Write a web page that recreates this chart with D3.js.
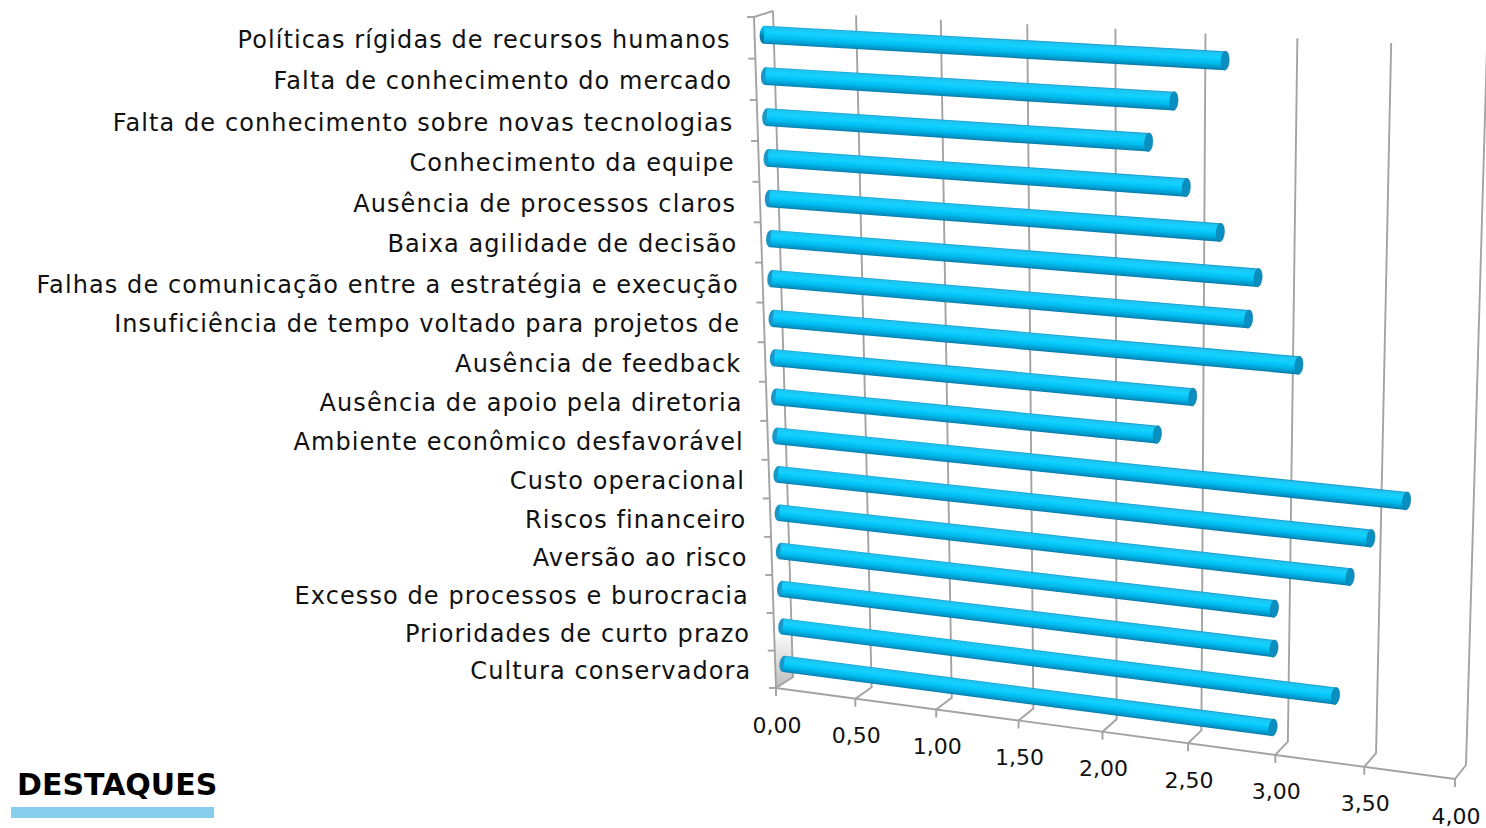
<!DOCTYPE html>
<html>
<head>
<meta charset="utf-8">
<script src="https://cdn.jsdelivr.net/npm/d3@7"></script>
<style>
  body { margin: 0; background: #fff; }
  svg { display: block; }
</style>
</head>
<body>
<svg></svg>
<script>
// chart data (top to bottom, as shown)
var categories = [
  'Políticas rígidas de recursos humanos',
  'Falta de conhecimento do mercado',
  'Falta de conhecimento sobre novas tecnologias',
  'Conhecimento da equipe',
  'Ausência de processos claros',
  'Baixa agilidade de decisão',
  'Falhas de comunicação entre a estratégia e execução',
  'Insuficiência de tempo voltado para projetos de',
  'Ausência de feedback',
  'Ausência de apoio pela diretoria',
  'Ambiente econômico desfavorável',
  'Custo operacional',
  'Riscos financeiro',
  'Aversão ao risco',
  'Excesso de processos e burocracia',
  'Prioridades de curto prazo',
  'Cultura conservadora'
];
var values = [2.65, 2.37, 2.23, 2.44, 2.63, 2.84, 2.79, 3.07, 2.48, 2.28, 3.67, 3.48, 3.37, 2.95, 2.95, 3.30, 2.95];
var tickValues = [0, 0.5, 1, 1.5, 2, 2.5, 3, 3.5, 4];
var tickLabels = ['0,00', '0,50', '1,00', '1,50', '2,00', '2,50', '3,00', '3,50', '4,00'];

var width = 1486;
var height = 828;

var svg = d3.select('svg')
  .attr('width', width)
  .attr('height', height);

// value -> 0..1 across the wall, category -> 0..1 up the wall (bottom first)
var xScale = d3.scaleLinear().domain([0, 4]).range([0, 1]);
var yScale = d3.scaleBand().domain(categories.slice().reverse()).range([0, 1]).padding(0);

// perspective: back wall and front plane as quads (bl, br, tr, tl)
var backQuad = [[793, 677], [1466, 765], [1487, 48], [773, 11]];
var frontQuad = [[776, 688], [1455, 779], [1474, 57], [754, 17]];

var homography = (q) => {
  var x0 = q[0][0], y0 = q[0][1], x1 = q[1][0], y1 = q[1][1];
  var x2 = q[2][0], y2 = q[2][1], x3 = q[3][0], y3 = q[3][1];
  var dx1 = x1 - x2, dx2 = x3 - x2, dx3 = x0 - x1 + x2 - x3;
  var dy1 = y1 - y2, dy2 = y3 - y2, dy3 = y0 - y1 + y2 - y3;
  var den = dx1 * dy2 - dx2 * dy1;
  var g = (dx3 * dy2 - dx2 * dy3) / den;
  var h = (dx1 * dy3 - dx3 * dy1) / den;
  var a = x1 - x0 + g * x1, b = x3 - x0 + h * x3, c = x0;
  var d = y1 - y0 + g * y1, e = y3 - y0 + h * y3, f = y0;
  return (u, v) => {
    var w = g * u + h * v + 1;
    return [(a * u + b * v + c) / w, (d * u + e * v + f) / w];
  };
};
var hBack = homography(backQuad);
var hFront = homography(frontQuad);

// v = value, hh = height 0..1, dep = 0 back .. 1 front
var proj = (v, hh, dep) => {
  var u = xScale(v);
  var pb = hBack(u, hh), pf = hFront(u, hh);
  return [pb[0] + (pf[0] - pb[0]) * dep, pb[1] + (pf[1] - pb[1]) * dep];
};

var line = d3.line();
var grid = svg.append('g').attr('id', 'grid')
  .attr('fill', 'none')
  .attr('stroke', '#a3a3a3')
  .attr('stroke-width', 1.9);

// shadow on the left wall
var defs = svg.append('defs');
var shade = defs.append('linearGradient').attr('id', 'shade')
  .attr('x1', 0).attr('y1', 0).attr('x2', 0).attr('y2', 1);
shade.append('stop').attr('offset', '0%').attr('stop-color', '#ffffff');
shade.append('stop').attr('offset', '100%').attr('stop-color', '#bdbdbd');
grid.append('path')
  .attr('d', line([proj(0, 0.075, 1), proj(0, 0.075, 0), proj(0, 0, 0), proj(0, 0, 1)]) + 'Z')
  .attr('fill', 'url(#shade)')
  .attr('stroke', 'none');

// back wall gridlines, floor diagonals and ticks
tickValues.forEach((t) => {
  var f = proj(t, 0, 1);
  grid.append('path').attr('d', line([proj(t, 1, 0), proj(t, 0, 0), f, [f[0], f[1] + 8]]));
});

// floor front edge
grid.append('path').attr('d', line([proj(0, 0, 1), proj(4, 0, 1)]));

// left wall: front axis, top edge
grid.append('path').attr('d', line([proj(0, 1, 0), proj(0, 1, 1), proj(0, 0, 1)]));
d3.range(categories.length + 1).forEach((k) => {
  var p = proj(0, k / categories.length, 1);
  grid.append('path').attr('d', line([p, [p[0] - 7, p[1]]]));
});

// bars as cylinders
var radius = 0.0128;
var bars = svg.append('g').attr('id', 'bars');
categories.forEach((cat, i) => {
  var hc = yScale(cat) + yScale.bandwidth() / 2;
  var v = values[i];
  var a0 = proj(0, hc, 0.5), a1 = proj(v, hc, 0.5);
  var t0 = proj(0, hc + radius, 0.5), b0 = proj(0, hc - radius, 0.5);
  var t1 = proj(v, hc + radius, 0.5), b1 = proj(v, hc - radius, 0.5);
  var ang = Math.atan2(a1[1] - a0[1], a1[0] - a0[0]);
  var nx = -Math.sin(ang), ny = Math.cos(ang);
  var r0 = Math.hypot(t0[0] - b0[0], t0[1] - b0[1]) / 2;
  var r1 = Math.hypot(t1[0] - b1[0], t1[1] - b1[1]) / 2;
  var cx = (a0[0] + a1[0]) / 2, cy = (a0[1] + a1[1]) / 2, rm = (r0 + r1) / 2;

  var gid = 'bar' + i;
  var grad = defs.append('linearGradient').attr('id', gid)
    .attr('gradientUnits', 'userSpaceOnUse')
    .attr('x1', cx - nx * rm).attr('y1', cy - ny * rm)
    .attr('x2', cx + nx * rm).attr('y2', cy + ny * rm);
  [['0%', '#1b96c6'], ['8%', '#1ec3f0'], ['35%', '#12d2ff'], ['65%', '#00bdf0'], ['88%', '#0099cc'], ['100%', '#0a7aa6']]
    .forEach((s) => grad.append('stop').attr('offset', s[0]).attr('stop-color', s[1]));

  var deg = ang * 180 / Math.PI;
  bars.append('ellipse')
    .attr('transform', 'translate(' + a0[0] + ',' + a0[1] + ') rotate(' + deg + ')')
    .attr('rx', 4.5).attr('ry', r0)
    .attr('fill', 'url(#' + gid + ')');
  bars.append('path')
    .attr('d', line([
      [a0[0] + nx * r0, a0[1] + ny * r0], [a1[0] + nx * r1, a1[1] + ny * r1],
      [a1[0] - nx * r1, a1[1] - ny * r1], [a0[0] - nx * r0, a0[1] - ny * r0]
    ]) + 'Z')
    .attr('fill', 'url(#' + gid + ')');
  bars.append('ellipse')
    .attr('transform', 'translate(' + a1[0] + ',' + a1[1] + ') rotate(' + deg + ')')
    .attr('rx', 4).attr('ry', r1)
    .attr('fill', '#0a8fc0')
    .attr('stroke', '#0b7ba6')
    .attr('stroke-width', 0.6);
});

// category labels along the left axis
var labels = svg.append('g').attr('id', 'labels')
  .attr('font-family', 'DejaVu Sans, sans-serif')
  .attr('font-size', 24)
  .attr('letter-spacing', 1.1)
  .attr('fill', '#111');
categories.forEach((cat) => {
  var p = proj(0, yScale(cat) + yScale.bandwidth() / 2, 1);
  labels.append('text')
    .attr('x', p[0] - 24)
    .attr('y', p[1] + 2)
    .attr('text-anchor', 'end')
    .attr('dominant-baseline', 'central')
    .text(cat);
});

// value tick labels
var xLabels = svg.append('g').attr('id', 'x-labels')
  .attr('font-family', 'DejaVu Sans, sans-serif')
  .attr('font-size', 22)
  .attr('fill', '#111');
tickValues.forEach((t, i) => {
  var p = proj(t, 0, 1);
  xLabels.append('text')
    .attr('x', p[0] + 1)
    .attr('y', p[1] + 37)
    .attr('text-anchor', 'middle')
    .attr('dominant-baseline', 'central')
    .text(tickLabels[i]);
});

// heading
svg.append('text')
  .attr('x', 17)
  .attr('y', 795)
  .attr('font-family', 'DejaVu Sans, sans-serif')
  .attr('font-weight', 'bold')
  .attr('font-size', 30)
  .attr('fill', '#000')
  .text('DESTAQUES');
svg.append('rect')
  .attr('x', 11).attr('y', 807)
  .attr('width', 203).attr('height', 11)
  .attr('fill', '#87ceee');
</script>
</body>
</html>
